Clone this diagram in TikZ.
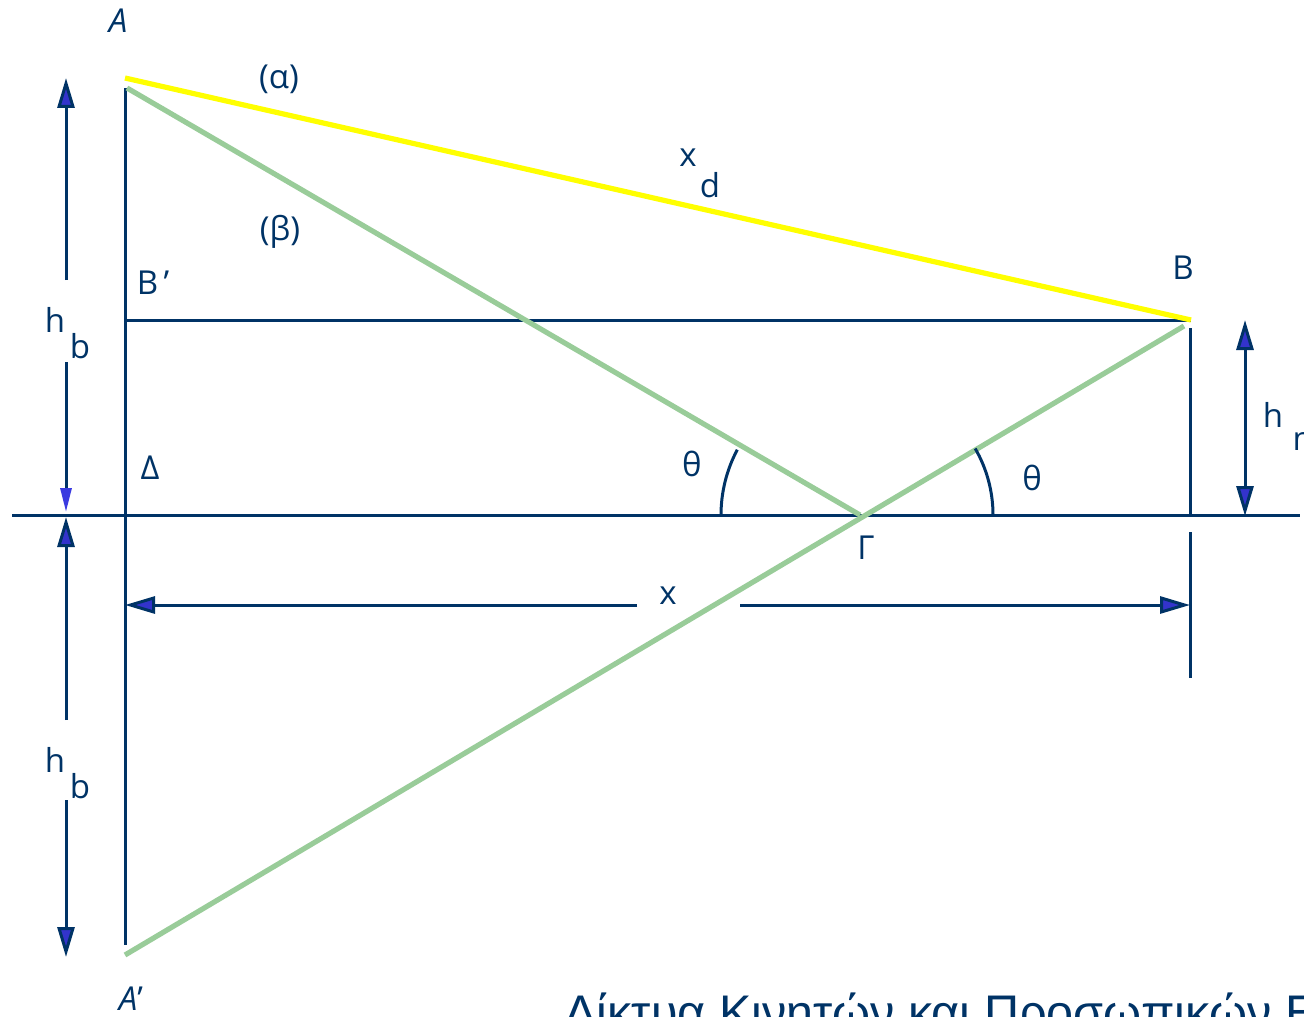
\documentclass[tikz,border=0pt]{standalone}
\usepackage{fontspec}
\setmainfont{Open Sans}
\newfontfamily\titlefont{Liberation Sans}
\usetikzlibrary{arrows.meta}
\definecolor{navy}{HTML}{003366}
\definecolor{arrowblue}{HTML}{3333CC}
\definecolor{brightblue}{HTML}{3B3BE0}
\definecolor{raygreen}{HTML}{99CC99}
\definecolor{rayyellow}{HTML}{FFFF00}
\tikzset{
  navyline/.style={draw=navy, line width=1.5pt},
  ray/.style={line width=2.6pt},
  dimarrow/.style={navyline, -{Triangle[length=15pt,width=8.5pt,fill=arrowblue]}},
  smallarrow/.style={navyline, -{Triangle[length=12pt,width=5.5pt,color=brightblue]}},
  lbl/.style={text=navy, font=\fontsize{16.5pt}{19pt}\selectfont, inner sep=0pt},
  ilbl/.style={lbl, font=\fontsize{16.5pt}{19pt}\selectfont\itshape},
}
\begin{document}
\begin{tikzpicture}[x=0.5pt,y=-0.5pt]
\useasboundingbox (0,0) rectangle (1304,1016);
\begin{scope}
\clip (0,0) rectangle (1304,1016);
% key points
\coordinate (Ay) at (125,78);
\coordinate (Ag) at (127,88);
\coordinate (Ap) at (125,955);
\coordinate (B) at (1191,320);
\coordinate (Bg) at (1184,326);
\coordinate (G) at (860,515);
\coordinate (Bprime) at (125,320);
\coordinate (Vtop) at (125,88);
\coordinate (Vbot) at (125,945);
\coordinate (GLl) at (12,515);
\coordinate (GLr) at (1300,515);
\coordinate (Rtop) at (1190,328);
\coordinate (Rbot) at (1190,515);
\coordinate (Rt2) at (1190,532);
\coordinate (Rb2) at (1190,678);
% ground and frame lines
\draw[navyline] (GLl) -- (GLr);
\draw[navyline] (Vtop) -- (Vbot);
\draw[navyline] (Bprime) -- (B);
\draw[navyline] (Rtop) -- (Rbot);
\draw[navyline] (Rt2) -- (Rb2);
% rays
\draw[ray, draw=raygreen] (Ag) -- (G);
\draw[ray, draw=raygreen] (Ap) -- (Bg);
\draw[ray, draw=rayyellow] (Ay) -- (B);
% angle arcs
\draw[navyline] ([shift={(180:139)}]G) arc[start angle=180, end angle=208, radius=139];
\draw[navyline] ([shift={(0:133)}]G) arc[start angle=0, end angle=-30, radius=133];
% dimension arrows
\coordinate (hbTopTip) at (66,78);
\coordinate (hbTopTail) at (66,280);
\coordinate (hbMidTail) at (66,362);
\coordinate (hbMidTip) at (66,512);
\coordinate (hbLowTip) at (66,517);
\coordinate (hbLowTail) at (66,720);
\coordinate (hbBotTail) at (66,800);
\coordinate (hbBotTip) at (66,957);
\draw[dimarrow] (hbTopTail) -- (hbTopTip);
\draw[smallarrow] (hbMidTail) -- (hbMidTip);
\draw[dimarrow] (hbLowTail) -- (hbLowTip);
\draw[dimarrow] (hbBotTail) -- (hbBotTip);
\coordinate (hmTop) at (1245,320);
\coordinate (hmBot) at (1245,516);
\draw[dimarrow, {Triangle[length=15pt,width=8.5pt,fill=arrowblue]}-{Triangle[length=15pt,width=8.5pt,fill=arrowblue]}] (hmTop) -- (hmBot);
\coordinate (xL) at (125,605);
\coordinate (xLm) at (637,605);
\coordinate (xRm) at (740,605);
\coordinate (xR) at (1190,605);
\draw[dimarrow] (xLm) -- (xL);
\draw[dimarrow] (xRm) -- (xR);
% labels
\node[ilbl] (lA) at (118,21) {A};
\node[ilbl] (lAp) at (131,999) {A{\upshape\char39}};
\node[lbl] (la) at (279,79) {(α)};
\node[lbl] (lb) at (280,232) {(β)};
\node[lbl] (lxd1) at (688,158) {x};
\node[lbl] (lxd2) at (710,185) {d};
\node[lbl] (lB) at (1183,268) {B};
\node[lbl] (lBp) at (153,283) {B\,\char39};
\node[lbl] (lD) at (150,468) {Δ};
\node[lbl] (lt1) at (692,464) {θ};
\node[lbl] (lt2) at (1032,478) {θ};
\node[lbl] (lG) at (866,548) {Γ};
\node[lbl] (lx) at (668,596) {x};
\node[lbl] (lhb1) at (55,320) {h};
\node[lbl] (lhb1s) at (80,346) {b};
\node[lbl] (lhb2) at (55,760) {h};
\node[lbl] (lhb2s) at (80,786) {b};
\node[lbl] (lhm) at (1273,415) {h};
\node[lbl] (lhms) at (1308,442) {m};
\node[text=navy, font=\titlefont\fontsize{24.3pt}{29pt}\selectfont, inner sep=0pt, anchor=base west] (title) at (564,1029) {Δίκτυα Κινητών και Προσωπικών Επικοινωνιών};
\end{scope}
\end{tikzpicture}
\end{document}
